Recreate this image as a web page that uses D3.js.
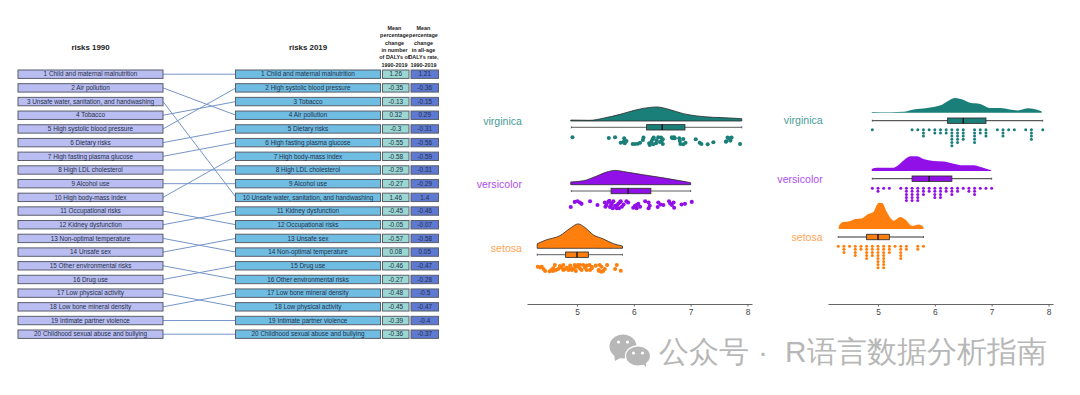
<!DOCTYPE html>
<html>
<head>
<meta charset="utf-8">
<script src="https://cdn.jsdelivr.net/npm/d3@7"></script>
<style>
  html, body { margin: 0; padding: 0; background: #fff; }
  svg { display: block; }
  text { font-family: "Liberation Sans", Arial, sans-serif; }
</style>
</head>
<body>
<div id="chart"></div>
<script>
// Risk rankings
const risks1990 = ["Child and maternal malnutrition", "Air pollution", "Unsafe water, sanitation, and handwashing", "Tobacco", "High systolic blood pressure", "Dietary risks", "High fasting plasma glucose", "High LDL cholesterol", "Alcohol use", "High body-mass index", "Occupational risks", "Kidney dysfunction", "Non-optimal temperature", "Unsafe sex", "Other environmental risks", "Drug use", "Low physical activity", "Low bone mineral density", "Intimate partner violence", "Childhood sexual abuse and bullying"];
const risks2019 = ["Child and maternal malnutrition", "High systolic blood pressure", "Tobacco", "Air pollution", "Dietary risks", "High fasting plasma glucose", "High body-mass index", "High LDL cholesterol", "Alcohol use", "Unsafe water, sanitation, and handwashing", "Kidney dysfunction", "Occupational risks", "Unsafe sex", "Non-optimal temperature", "Drug use", "Other environmental risks", "Low bone mineral density", "Low physical activity", "Intimate partner violence", "Childhood sexual abuse and bullying"];
const changeDalys = ["1.26", "-0.35", "-0.13", "0.32", "-0.3", "-0.55", "-0.58", "-0.29", "-0.27", "1.46", "-0.45", "-0.05", "-0.57", "0.08", "-0.46", "-0.27", "-0.48", "-0.45", "-0.39", "-0.36"];
const changeRate = ["1.21", "-0.36", "-0.15", "0.29", "-0.31", "-0.56", "-0.59", "-0.31", "-0.29", "1.4", "-0.46", "-0.07", "-0.58", "0.05", "-0.47", "-0.28", "-0.5", "-0.47", "-0.4", "-0.37"];
const headerDalys = ["Mean", "percentage", "change", "in number", "of DALYs of", "1990-2019"];
const headerRate = ["Mean", "percentage", "change", "in all-age", "DALYs rate,", "1990-2019"];

// Raincloud data
const species = ["virginica", "versicolor", "setosa"];
const axisTicks = [5, 6, 7, 8];

// boxplots: min, q1, median, q3, max
const boxVirginica = [4.9, 6.225, 6.5, 6.9, 7.9];
const boxVersicolor = [4.9, 5.6, 5.9, 6.3, 7.0];
const boxSetosa = [4.3, 4.8, 5.0, 5.2, 5.8];

// left panel: smooth density outline
const smoothVirginicaX = [4.89, 5.23, 5.46, 5.76, 6.05, 6.28, 6.40, 6.64, 6.87, 7.11, 7.40, 7.69, 7.90];
const smoothVirginicaY = [.04, .03, .12, .29, .49, .59, .61, .49, .32, .22, .16, .13, .10];
const smoothVersicolorX = [4.89, 5.11, 5.35, 5.52, 5.67, 5.87, 6.17, 6.46, 6.75, 7.00];
const smoothVersicolorY = [.12, .17, .38, .55, .62, .55, .43, .32, .20, .09];
const smoothSetosaX = [4.30, 4.44, 4.70, 4.88, 5.02, 5.14, 5.29, 5.46, 5.64, 5.80];
const smoothSetosaY = [.20, .35, .55, .87, 1.06, .90, .58, .41, .20, .10];

// right panel: narrow bandwidth density
const narrowVirginicaX = [4.89, 5.22, 5.45, 5.63, 5.86, 6.10, 6.21, 6.36, 6.51, 6.62, 6.80, 6.97, 7.15, 7.32, 7.46, 7.65, 7.80, 7.88];
const narrowVirginicaY = [.03, .02, .04, .14, .20, .32, .48, .64, .55, .43, .38, .20, .20, .14, .10, .19, .13, .06];
const narrowVersicolorX = [4.89, 4.98, 5.27, 5.36, 5.45, 5.57, 5.68, 5.80, 5.98, 6.15, 6.33, 6.50, 6.68, 6.85, 6.99];
const narrowVersicolorY = [.09, .14, .14, .26, .46, .64, .64, .52, .43, .41, .32, .25, .25, .14, .03];
const narrowSetosaX = [4.31, 4.37, 4.51, 4.60, 4.71, 4.83, 4.92, 5.01, 5.07, 5.16, 5.28, 5.39, 5.48, 5.60, 5.72, 5.80];
const narrowSetosaY = [.12, .29, .35, .43, .46, .65, .75, 1.13, 1.13, .72, .36, .52, .41, .14, .20, .09];

// left panel: jittered points (x value, vertical jitter 0-1)
const jitterVirginicaX = [4.92, 5.56, 5.67, 5.83, 5.82, 5.77, 5.84, 5.87, 5.98, 6.02, 6.07, 6.11, 6.17, 6.16, 6.28, 6.27, 6.31, 6.33, 6.35, 6.39, 6.40, 6.43, 6.46, 6.48, 6.51, 6.51, 6.49, 6.67, 6.71, 6.81, 6.82, 6.80, 6.72, 6.87, 6.91, 7.09, 7.16, 7.19, 7.30, 7.40, 7.63, 7.65, 7.68, 7.70, 7.72, 7.87, 6.34, 6.87, 6.68, 7.62];
const jitterVirginicaJ = [0, .09, 0, .13, .57, .7, .78, .48, .87, .87, .83, .7, .04, .35, 1, .78, .57, .26, .04, .78, .39, 0, .61, .04, .87, .26, .48, 0, 0, .48, .87, .13, .13, .22, .7, .26, .7, .87, .91, .65, .52, .04, .13, .43, .04, .87, .91, .91, .13, .57];
const jitterVersicolorX = [4.89, 4.96, 5.01, 5.05, 5.08, 5.23, 5.36, 5.49, 5.52, 5.55, 5.58, 5.61, 5.64, 5.67, 5.70, 5.73, 5.76, 5.79, 5.82, 5.87, 5.90, 5.99, 6.02, 6.05, 6.08, 6.11, 6.20, 6.26, 6.28, 6.26, 6.43, 6.42, 6.47, 6.52, 6.62, 6.64, 6.67, 6.71, 6.70, 6.84, 6.90, 7.02, 5.57, 5.63, 5.74, 5.77, 6.05, 5.50, 5.60, 5.71];
const jitterVersicolorJ = [.83, .17, .08, .25, .42, .08, .58, .25, .58, .17, .83, .38, .08, .67, 1, .38, .17, .79, .5, .08, .25, .92, .67, .58, .42, .79, .08, .25, .67, 1, .25, .83, .5, .58, .08, .38, .58, .92, .25, .5, .42, .17, .04, 1, 1, .08, 1, .79, .58, .58];
const jitterSetosaX = [4.31, 4.35, 4.38, 4.41, 4.44, 4.52, 4.55, 4.58, 4.61, 4.63, 4.70, 4.73, 4.76, 4.79, 4.82, 4.85, 4.88, 4.91, 4.94, 4.96, 4.99, 5.02, 5.05, 5.08, 5.11, 5.14, 5.17, 5.22, 5.23, 5.26, 5.33, 5.38, 5.40, 5.43, 5.46, 5.49, 5.53, 5.67, 5.70, 5.77, 5.43, 5.39, 5.17, 4.98, 4.76, 4.67, 4.58, 4.88, 5.05, 5.26];
const jitterSetosaJ = [.25, .35, .25, .6, .9, .95, .75, .5, 0, .75, .15, .4, 0, .6, .4, .75, .1, .75, .5, 0, .25, 0, .5, .75, 0, .4, .1, 0, .75, .25, .1, .75, 0, .25, .9, .6, 0, .6, 0, .85, 1, .9, .75, .9, .75, .6, .9, .5, 0, .5];

// right panel: dot columns (x value, dots in the column)
const dotsVirginicaX = [4.9, 5.6, 5.7, 5.8, 5.9, 6.0, 6.1, 6.2, 6.3, 6.4, 6.5, 6.7, 6.8, 6.9, 7.1, 7.2, 7.3, 7.4, 7.6, 7.7, 7.9];
const dotsVirginicaN = [1, 1, 1, 3, 1, 2, 2, 2, 6, 5, 4, 5, 2, 3, 1, 3, 1, 1, 1, 4, 1];
const dotsVersicolorX = [4.9, 5.0, 5.1, 5.2, 5.4, 5.5, 5.6, 5.7, 5.8, 5.9, 6.0, 6.1, 6.2, 6.3, 6.4, 6.5, 6.6, 6.7, 6.8, 6.9, 7.0];
const dotsVersicolorN = [1, 2, 1, 1, 1, 5, 5, 5, 3, 2, 4, 4, 2, 3, 2, 1, 2, 3, 1, 1, 1];
const dotsSetosaX = [4.3, 4.4, 4.5, 4.6, 4.7, 4.8, 4.9, 5.0, 5.1, 5.2, 5.3, 5.4, 5.5, 5.7, 5.8];
const dotsSetosaN = [1, 3, 1, 4, 2, 5, 4, 8, 8, 3, 1, 5, 2, 2, 1];

const width = 1080, height = 395;
const svg = d3.select("#chart").append("svg").attr("width", width).attr("height", height);

// ---------- bump table ----------
const rowY = d3.scalePoint().domain(d3.range(20)).range([74.2, 334.2]);
const boxH = 8.4;
const textDark = "#263049";

function drawColumn(x0, x1, labels, fill, textFill) {
  const g = svg.append("g");
  g.selectAll("rect").data(labels).join("rect")
    .attr("x", x0).attr("y", (d, i) => rowY(i) - boxH / 2)
    .attr("width", x1 - x0).attr("height", boxH)
    .attr("fill", fill).attr("stroke", "#5a5f6a").attr("stroke-width", 1);
  g.selectAll("text").data(labels).join("text")
    .attr("x", (x0 + x1) / 2).attr("y", (d, i) => rowY(i) + 2.2)
    .attr("text-anchor", "middle").attr("font-size", 6.4).attr("fill", textFill)
    .text(d => d);
}

// links first, the boxes sit on top
svg.append("g").selectAll("line").data(risks1990).join("line")
  .attr("x1", 163).attr("x2", 236)
  .attr("y1", (d, i) => rowY(i))
  .attr("y2", d => rowY(risks2019.indexOf(d)))
  .attr("stroke", "#7595c9").attr("stroke-width", 1);

drawColumn(18, 163, risks1990.map((d, i) => `${i + 1} ${d}`), "#b9bdf1", textDark);
drawColumn(235.5, 380.5, risks2019.map((d, i) => `${i + 1} ${d}`), "#6fbde3", textDark);
drawColumn(382.5, 409, changeDalys, "#9bd7d3", textDark);
drawColumn(411, 438.5, changeRate, "#5d79d2", textDark);

svg.append("text").attr("x", 90.5).attr("y", 49.5).attr("text-anchor", "middle")
  .attr("font-size", 7.9).attr("font-weight", "bold").attr("fill", "#222").text("risks 1990");
svg.append("text").attr("x", 308).attr("y", 49.5).attr("text-anchor", "middle")
  .attr("font-size", 7.9).attr("font-weight", "bold").attr("fill", "#222").text("risks 2019");

function drawHeader(cx, lines) {
  svg.append("g").selectAll("text").data(lines).join("text")
    .attr("x", cx).attr("y", (d, i) => 30 + i * 7.35)
    .attr("text-anchor", "middle").attr("font-size", 5.4).attr("font-weight", "bold").attr("fill", "#222")
    .text(d => d);
}
drawHeader(394.5, headerDalys);
drawHeader(423.5, headerRate);

// ---------- rainclouds ----------
const colors = { virginica: "#1b7f79", versicolor: "#9210e8", setosa: "#ff7f0e" };
const labelColors = { virginica: "#4a9c96", versicolor: "#ad50ee", setosa: "#ffa556" };
const densityPx = d3.scaleLinear().domain([0, 1.2]).range([0, 27.6]);

const boxes = { virginica: boxVirginica, versicolor: boxVersicolor, setosa: boxSetosa };

function drawBox(g, x, y, stats, color, sw) {
  const [lo, q1, med, q3, hi] = stats;
  g.append("line").attr("x1", x(lo)).attr("x2", x(hi)).attr("y1", y).attr("y2", y)
    .attr("stroke", "#333").attr("stroke-width", sw);
  [lo, hi].forEach(v => g.append("line").attr("x1", x(v)).attr("x2", x(v))
    .attr("y1", y - 1).attr("y2", y + 1).attr("stroke", "#333").attr("stroke-width", 0.7));
  g.append("rect").attr("x", x(q1)).attr("width", x(q3) - x(q1)).attr("y", y - 2.7).attr("height", 5.4)
    .attr("fill", color).attr("stroke", "#333").attr("stroke-width", 0.9);
  g.append("line").attr("x1", x(med)).attr("x2", x(med)).attr("y1", y - 2.7).attr("y2", y + 2.7)
    .attr("stroke", "#111").attr("stroke-width", 1.4);
}

function drawAxis(range) {
  const x = d3.scaleLinear().domain([4.12, 8.08]).range(range);
  const ax = svg.append("g").attr("transform", "translate(0,304)")
    .call(d3.axisBottom(x).tickValues(axisTicks).tickSize(2.5).tickSizeOuter(0).tickFormat(d3.format("d")));
  ax.select(".domain").attr("stroke", "#666").attr("stroke-width", 1.2);
  ax.selectAll(".tick line").attr("stroke", "#666");
  ax.selectAll(".tick text").attr("fill", "#444").attr("font-size", 8.4)
    .attr("font-family", '"Liberation Sans", Arial, sans-serif').attr("dy", "0.6em");
  return x;
}

function drawCloud(g, x, xs, ys, base, color, outline) {
  const rows = xs.map((d, i) => [d, ys[i]]);
  const area = d3.area()
    .x(d => x(d[0]))
    .y0(base)
    .y1(d => base - densityPx(d[1]))
    .curve(d3.curveMonotoneX);
  g.append("path").attr("d", area(rows)).attr("fill", color)
    .attr("stroke", outline ? "#2a2a2a" : "none").attr("stroke-width", 0.8)
    .attr("stroke-linejoin", "round");
}

function drawLabel(x, y, name) {
  svg.append("text").attr("x", x).attr("y", y).attr("text-anchor", "end").attr("font-size", 10.6)
    .attr("dominant-baseline", "middle").attr("fill", labelColors[name]).text(name);
}

// left panel: smooth cloud + jittered points
const leftX = drawAxis([527, 752]);
const leftG = svg.append("g");
const leftRows = [
  { name: species[0], xs: smoothVirginicaX, ys: smoothVirginicaY, px: jitterVirginicaX, pj: jitterVirginicaJ, base: 121, box: 127.3, j: [137.3, 145], label: 122 },
  { name: species[1], xs: smoothVersicolorX, ys: smoothVersicolorY, px: jitterVersicolorX, pj: jitterVersicolorJ, base: 184.7, box: 191, j: [200.6, 208.3], label: 185.5 },
  { name: species[2], xs: smoothSetosaX, ys: smoothSetosaY, px: jitterSetosaX, pj: jitterSetosaJ, base: 248.3, box: 254.7, j: [265, 271.7], label: 249.5 }
];
leftRows.forEach(r => {
  const color = colors[r.name];
  drawCloud(leftG, leftX, r.xs, r.ys, r.base, color, true);
  drawBox(leftG, leftX, r.box, boxes[r.name], color, 0.8);
  const jy = d3.scaleLinear().domain([0, 1]).range(r.j);
  leftG.append("g").selectAll("circle").data(r.px).join("circle")
    .attr("cx", d => leftX(d)).attr("cy", (d, i) => jy(r.pj[i])).attr("r", 2.05).attr("fill", color);
  drawLabel(522, r.label, r.name);
});

// right panel: narrow cloud + stacked dots
const rightX = drawAxis([828, 1053]);
const rightG = svg.append("g");
const rightRows = [
  { name: species[0], xs: narrowVirginicaX, ys: narrowVirginicaY, dx: dotsVirginicaX, dn: dotsVirginicaN, base: 112.7, box: 120.7, dot: 129.7, step: 3.2, label: 121.5 },
  { name: species[1], xs: narrowVersicolorX, ys: narrowVersicolorY, dx: dotsVersicolorX, dn: dotsVersicolorN, base: 171, box: 178.7, dot: 188.3, step: 3.05, label: 180.2 },
  { name: species[2], xs: narrowSetosaX, ys: narrowSetosaY, dx: dotsSetosaX, dn: dotsSetosaN, base: 229, box: 237, dot: 246.3, step: 3.05, label: 238.2 }
];
rightRows.forEach(r => {
  const color = colors[r.name];
  drawCloud(rightG, rightX, r.xs, r.ys, r.base, color, false);
  drawBox(rightG, rightX, r.box, boxes[r.name], color, 1);
  const dots = r.dx.flatMap((v, i) => d3.range(r.dn[i]).map(k => ({ v, k })));
  rightG.append("g").selectAll("circle").data(dots).join("circle")
    .attr("cx", d => rightX(d.v)).attr("cy", d => r.dot + d.k * r.step).attr("r", 1.5).attr("fill", color);
  drawLabel(822.7, r.label, r.name);
});

// ---------- watermark ----------
const mark = svg.append("g").attr("fill", "#b7b7b7");
mark.append("ellipse").attr("cx", 623).attr("cy", 346.5).attr("rx", 13.5).attr("ry", 12);
mark.append("path").attr("d", "M614 354 L615 361 L622 357 Z");
mark.append("ellipse").attr("cx", 638).attr("cy", 356).attr("rx", 12.5).attr("ry", 10.2)
  .attr("stroke", "#fff").attr("stroke-width", 1.2);
mark.append("path").attr("d", "M643 364 L646 367 L646 361 Z");
[[618.5, 342], [627.5, 342], [633.5, 353], [642.5, 353]].forEach(p => {
  mark.append("circle").attr("cx", p[0]).attr("cy", p[1]).attr("r", 1.6).attr("fill", "#fff");
});
const markText = svg.append("g").attr("fill", "#b7b7b7").attr("font-size", 29.8)
  .style("font-family", '"Noto Sans CJK SC", sans-serif');
markText.append("text").attr("x", 659).attr("y", 362).text("公众号");
markText.append("text").attr("x", 763).attr("y", 362).attr("text-anchor", "middle").text("·");
markText.append("text").attr("x", 785).attr("y", 362).text("R语言数据分析指南");
</script>
</body>
</html>
